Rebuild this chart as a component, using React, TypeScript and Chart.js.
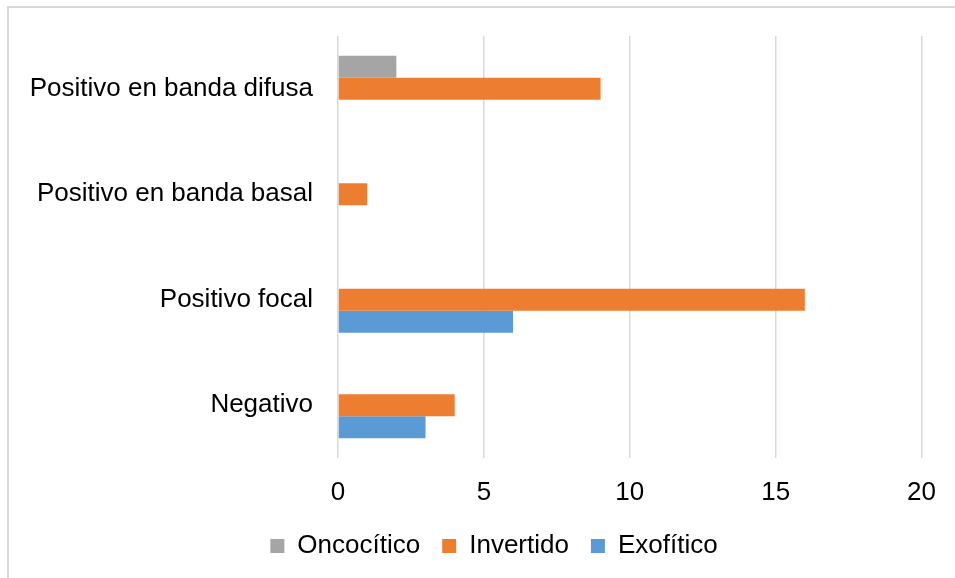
import React, { useEffect, useRef } from "react";
import { Chart, registerables } from "chart.js";

Chart.register(...registerables);

const categories = [
  "Positivo en banda difusa",
  "Positivo en banda basal",
  "Positivo focal",
  "Negativo",
];
const seriesNames = ["Oncocítico", "Invertido", "Exofítico"];
const oncocitico = [2, 0, 0, 0];
const invertido = [9, 1, 16, 4];
const exofitico = [0, 0, 6, 3];
const colors = ["#A5A5A5", "#ED7D31", "#5B9BD5"];
const xTicks = [0, 5, 10, 15, 20];

const FONT = "'Liberation Sans', Arial, sans-serif";
const FS = 26;

const shiftLegend = {
  id: "shiftLegend",
  afterLayout(chart: any) {
    const lg = chart.legend;
    if (lg) {
      lg.left += 33;
      lg.right += 33;
    }
  },
};

export default function App() {
  const ref = useRef<HTMLCanvasElement | null>(null);

  useEffect(() => {
    if (!ref.current) return;
    const values = [oncocitico, invertido, exofitico];
    const chart = new Chart(ref.current, {
      type: "bar",
      data: {
        labels: categories,
        datasets: seriesNames.map((name, i) => ({
          label: name,
          data: values[i],
          backgroundColor: colors[i],
          borderWidth: 0,
          categoryPercentage: 0.625,
          barPercentage: 1,
        })),
      },
      plugins: [shiftLegend],
      options: {
        indexAxis: "y",
        responsive: false,
        animation: false,
        layout: { padding: { top: 36, right: 33, bottom: 9, left: 0 } },
        plugins: {
          legend: {
            position: "bottom",
            labels: {
              boxWidth: 14,
              boxHeight: 14,
              padding: 22,
              color: "#000",
              font: { family: FONT, size: FS },
            },
          },
          tooltip: { enabled: false },
        },
        scales: {
          x: {
            min: xTicks[0],
            max: xTicks[xTicks.length - 1],
            afterBuildTicks: (scale: any) => {
              scale.ticks = xTicks.map((v) => ({ value: v }));
            },
            afterFit: (scale: any) => {
              scale.height = 53;
            },
            grid: { color: "#d9d9d9", lineWidth: 1.5, drawTicks: false },
            border: { display: false },
            ticks: {
              padding: 19,
              color: "#000",
              font: { family: FONT, size: FS },
            },
          },
          y: {
            afterFit: (scale: any) => {
              scale.width = 338;
              scale.paddingTop = 0;
              scale.paddingBottom = 0;
            },
            grid: { display: false, drawTicks: false },
            border: { display: false },
            ticks: {
              padding: 25,
              color: "#000",
              font: { family: FONT, size: FS },
            },
          },
        },
      },
    });
    return () => chart.destroy();
  }, []);

  return (
    <div
      style={{
        position: "fixed",
        left: 0,
        top: 0,
        width: 955,
        height: 578,
        background: "#fff",
        overflow: "hidden",
      }}
    >
      <div
        style={{
          position: "absolute",
          left: 7,
          top: 6,
          width: 1100,
          height: 800,
          borderTop: "2px solid #d9d9d9",
          borderLeft: "2px solid #d9d9d9",
        }}
      />
      <canvas
        ref={ref}
        width={955}
        height={578}
        style={{ position: "absolute", left: 0, top: 0, width: 955, height: 578 }}
      />
    </div>
  );
}
